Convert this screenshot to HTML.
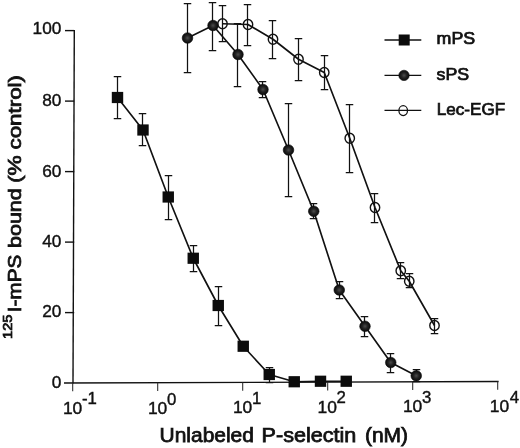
<!DOCTYPE html>
<html lang="en"><head><meta charset="utf-8"><title>Competition binding: unlabeled P-selectin</title>
<style>html,body{margin:0;padding:0;background:#fff}body{width:520px;height:448px;overflow:hidden}svg{display:block}</style></head>
<body>
<svg width="520" height="448" viewBox="0 0 520 448">
<defs><radialGradient id="g" cx="50%" cy="50%" r="50%"><stop offset="0" stop-color="#4c4c4c"/><stop offset="0.5" stop-color="#222"/><stop offset="1" stop-color="#0a0a0a"/></radialGradient></defs>
<rect width="520" height="448" fill="#fff"/>
<g stroke="#111" stroke-width="1.4" fill="none" stroke-linecap="butt">
<path d="M74.3,30 L73,383.6"/>
<path d="M64,383 L498.6,381.5"/>
<path d="M65,30.60H74.2"/>
<path d="M65,101.10H74.2"/>
<path d="M65,171.60H74.2"/>
<path d="M65,242.10H74.2"/>
<path d="M65,312.60H74.2"/>
<path d="M72.70,383.00v8.3" stroke-width="1.05" stroke="#2a2a2a"/>
<path d="M157.70,382.70v8.3" stroke-width="1.05" stroke="#2a2a2a"/>
<path d="M242.70,382.40v8.3" stroke-width="1.05" stroke="#2a2a2a"/>
<path d="M327.70,382.10v8.3" stroke-width="1.05" stroke="#2a2a2a"/>
<path d="M412.70,381.80v8.3" stroke-width="1.05" stroke="#2a2a2a"/>
<path d="M497.70,381.50v8.3" stroke-width="1.05" stroke="#2a2a2a"/>
</g>
<g stroke="#111" stroke-width="1.25" fill="none">
<path d="M117.5,76.5V118.5M113.75,76.5H121.25M113.75,118.5H121.25"/><path d="M142.5,113.5V145.5M138.75,113.5H146.25M138.75,145.5H146.25"/><path d="M168.5,175.5V219.5M164.75,175.5H172.25M164.75,219.5H172.25"/><path d="M193.5,245.5V271.5M189.75,245.5H197.25M189.75,271.5H197.25"/><path d="M218.5,286.5V325.5M214.75,286.5H222.25M214.75,325.5H222.25"/><path d="M269.5,367.5V382.5M265.75,367.5H273.25M265.75,382.5H273.25"/><path d="M187.5,3.5V72.5M183.75,3.5H191.25M183.75,72.5H191.25"/><path d="M212.5,2.5V50.5M208.75,2.5H216.25M208.75,50.5H216.25"/><path d="M237.5,23.5V86.5M233.75,23.5H241.25M233.75,86.5H241.25"/><path d="M262.5,81.5V97.5M258.75,81.5H266.25M258.75,97.5H266.25"/><path d="M288.5,103.5V196.5M284.75,103.5H292.25M284.75,196.5H292.25"/><path d="M313.5,203.5V218.5M309.75,203.5H317.25M309.75,218.5H317.25"/><path d="M339.5,281.5V298.5M335.75,281.5H343.25M335.75,298.5H343.25"/><path d="M364.5,316.5V336.5M360.75,316.5H368.25M360.75,336.5H368.25"/><path d="M390.5,353.5V372.5M386.75,353.5H394.25M386.75,372.5H394.25"/><path d="M416.5,369.5V381.5M412.75,369.5H420.25M412.75,381.5H420.25"/><path d="M222.5,5.5V41.5M218.75,5.5H226.25M218.75,41.5H226.25"/><path d="M247.5,4.5V45.5M243.75,4.5H251.25M243.75,45.5H251.25"/><path d="M272.5,20.5V58.5M268.75,20.5H276.25M268.75,58.5H276.25"/><path d="M298.5,38.5V80.5M294.75,38.5H302.25M294.75,80.5H302.25"/><path d="M324.5,55.5V89.5M320.75,55.5H328.25M320.75,89.5H328.25"/><path d="M349.5,104.5V172.5M345.75,104.5H353.25M345.75,172.5H353.25"/><path d="M374.5,193.5V222.5M370.75,193.5H378.25M370.75,222.5H378.25"/><path d="M400.5,262.5V278.5M396.75,262.5H404.25M396.75,278.5H404.25"/><path d="M409.5,273.5V287.5M405.75,273.5H413.25M405.75,287.5H413.25"/><path d="M434.5,318.5V333.5M430.75,318.5H438.25M430.75,333.5H438.25"/>
</g>
<g stroke="#111" stroke-width="1.65" fill="none" stroke-linejoin="round">
<polyline points="117.5,97.5 143,130 168.25,197 193.25,258.25 218.25,305.5 243.25,346.25 269.25,374.5 294.25,381.75 320.5,381.25 346.25,381.25"/><polyline points="187.5,38 213,25.5 238,54.5 263,89.5 288.5,150 313.75,211.25 339.25,290 365,326.25 390.75,362.5 416.25,375.75"/><polyline points="222.5,23.75 248,24.5 273,39.25 298.5,59.25 324.25,72.5 349.75,138.25 375,207.5 400.75,270.75 409.25,281.25 434.5,325.5"/>
</g>
<g fill="#0c0c0c">
<rect x="111.80" y="91.90" width="11.4" height="11.2"/>
<rect x="137.30" y="124.40" width="11.4" height="11.2"/>
<rect x="162.55" y="191.40" width="11.4" height="11.2"/>
<rect x="187.55" y="252.65" width="11.4" height="11.2"/>
<rect x="212.55" y="299.90" width="11.4" height="11.2"/>
<rect x="237.55" y="340.65" width="11.4" height="11.2"/>
<rect x="263.55" y="368.90" width="11.4" height="11.2"/>
<rect x="288.55" y="376.15" width="11.4" height="11.2"/>
<rect x="314.80" y="375.65" width="11.4" height="11.2"/>
<rect x="340.55" y="375.65" width="11.4" height="11.2"/>
</g>
<g fill="url(#g)" stroke="#0a0a0a" stroke-width="0.6">
<circle cx="187.5" cy="38" r="5.3"/>
<circle cx="213" cy="25.5" r="5.3"/>
<circle cx="238" cy="54.5" r="5.3"/>
<circle cx="263" cy="89.5" r="5.3"/>
<circle cx="288.5" cy="150" r="5.3"/>
<circle cx="313.75" cy="211.25" r="5.3"/>
<circle cx="339.25" cy="290" r="5.3"/>
<circle cx="365" cy="326.25" r="5.3"/>
<circle cx="390.75" cy="362.5" r="5.3"/>
<circle cx="416.25" cy="375.75" r="5.3"/>
</g>
<g fill="none" stroke="#111" stroke-width="1.4">
<ellipse cx="222.5" cy="23.75" rx="4.7" ry="5.0"/>
<ellipse cx="248" cy="24.5" rx="4.7" ry="5.0"/>
<ellipse cx="273" cy="39.25" rx="4.7" ry="5.0"/>
<ellipse cx="298.5" cy="59.25" rx="4.7" ry="5.0"/>
<ellipse cx="324.25" cy="72.5" rx="4.7" ry="5.0"/>
<ellipse cx="349.75" cy="138.25" rx="4.7" ry="5.0"/>
<ellipse cx="375" cy="207.5" rx="4.7" ry="5.0"/>
<ellipse cx="400.75" cy="270.75" rx="4.7" ry="5.0"/>
<ellipse cx="409.25" cy="281.25" rx="4.7" ry="5.0"/>
<ellipse cx="434.5" cy="325.5" rx="4.7" ry="5.0"/>
</g>
<g stroke="#111" stroke-width="1.3" fill="none">
<path d="M384.5,40H421.3"/>
<path d="M384.5,75.4H421.3"/>
<path d="M384.5,110.4H421.3"/>
</g>
<rect x="398.7" y="34.5" width="11" height="11" fill="#0c0c0c"/>
<circle cx="404" cy="75.4" r="5.2" fill="url(#g)" stroke="#0a0a0a" stroke-width="0.6"/>
<ellipse cx="403.2" cy="110.6" rx="4.3" ry="5" fill="none" stroke="#111" stroke-width="1.25"/>
<g font-family="'Liberation Sans', Arial, Helvetica, sans-serif" fill="#111" stroke="#111" stroke-width="0.3">
<text x="436.6" y="44.3" font-size="15.7" stroke-width="0.7" textLength="38.6" lengthAdjust="spacingAndGlyphs">mPS</text>
<text x="436.6" y="80.1" font-size="15.7" stroke-width="0.7" textLength="32.6" lengthAdjust="spacingAndGlyphs">sPS</text>
<text x="436.8" y="115.0" font-size="15.7" stroke-width="0.7" textLength="68.4" lengthAdjust="spacingAndGlyphs">Lec-EGF</text>
<text x="32.59" y="33.80" font-size="16.6" stroke-width="0.4" textLength="28.81" lengthAdjust="spacingAndGlyphs">100</text>
<text x="42.20" y="105.90" font-size="16.6" stroke-width="0.4" textLength="19.20" lengthAdjust="spacingAndGlyphs">80</text>
<text x="42.20" y="176.70" font-size="16.6" stroke-width="0.4" textLength="19.20" lengthAdjust="spacingAndGlyphs">60</text>
<text x="42.20" y="246.70" font-size="16.6" stroke-width="0.4" textLength="19.20" lengthAdjust="spacingAndGlyphs">40</text>
<text x="42.20" y="316.90" font-size="16.6" stroke-width="0.4" textLength="19.20" lengthAdjust="spacingAndGlyphs">20</text>
<text x="51.80" y="388.10" font-size="16.6" stroke-width="0.4" textLength="9.60" lengthAdjust="spacingAndGlyphs">0</text>
<text y="413.6" font-size="16.6" stroke-width="0.4"><tspan x="62.90" textLength="19.4" lengthAdjust="spacingAndGlyphs">10</tspan><tspan dy="-9.3" dx="-0.4" font-size="16.8">-1</tspan></text>
<text y="413.9" font-size="16.6" stroke-width="0.4"><tspan x="147.90" textLength="19.4" lengthAdjust="spacingAndGlyphs">10</tspan><tspan dy="-9.3" dx="-0.4" font-size="16.8">0</tspan></text>
<text y="412.9" font-size="16.6" stroke-width="0.4"><tspan x="232.90" textLength="19.4" lengthAdjust="spacingAndGlyphs">10</tspan><tspan dy="-9.3" dx="-0.4" font-size="16.8">1</tspan></text>
<text y="412.5" font-size="16.6" stroke-width="0.4"><tspan x="317.50" textLength="19.4" lengthAdjust="spacingAndGlyphs">10</tspan><tspan dy="-9.05" dx="-0.4" font-size="16.8">2</tspan></text>
<text y="412.0" font-size="16.6" stroke-width="0.4"><tspan x="402.90" textLength="19.4" lengthAdjust="spacingAndGlyphs">10</tspan><tspan dy="-8.6" dx="-0.4" font-size="16.8">3</tspan></text>
<text y="411.6" font-size="16.6" stroke-width="0.4"><tspan x="489.80" textLength="19.4" lengthAdjust="spacingAndGlyphs">10</tspan><tspan dy="-9.0" dx="0.5" font-size="16.8">4</tspan></text>
<text y="441.7" font-size="19.4" stroke-width="0.75"><tspan x="159.6" textLength="94.3" lengthAdjust="spacingAndGlyphs">Unlabeled</tspan> <tspan x="261.6" textLength="94.6" lengthAdjust="spacingAndGlyphs">P-selectin</tspan> <tspan x="364.9" textLength="43.2" lengthAdjust="spacingAndGlyphs">(nM)</tspan></text>
<text transform="translate(21.3,0) rotate(-90)" y="0" font-size="18.6" stroke-width="0.75"><tspan x="-338.9" dy="-9.3" font-size="13" textLength="24.4" lengthAdjust="spacingAndGlyphs">125</tspan><tspan x="-312.3" dy="9.3" textLength="57.6" lengthAdjust="spacingAndGlyphs">I-mPS</tspan> <tspan x="-248.0" textLength="59.8" lengthAdjust="spacingAndGlyphs">bound</tspan> <tspan x="-183.0" textLength="27.8" lengthAdjust="spacingAndGlyphs">(%</tspan> <tspan x="-149.5" textLength="74.5" lengthAdjust="spacingAndGlyphs">control)</tspan></text>
</g>
</svg>
</body></html>
